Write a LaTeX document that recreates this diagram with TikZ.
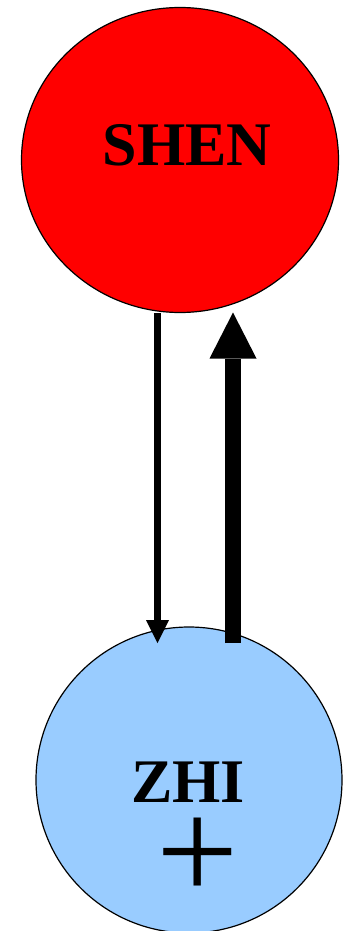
\documentclass[tikz,border=0pt]{standalone}
\usepackage{fontspec}
\setmainfont{Liberation Serif}
\usetikzlibrary{shapes.geometric,arrows.meta}
\definecolor{shenred}{RGB}{255,0,0}
\definecolor{zhiblue}{RGB}{153,204,255}

\begin{document}
\begin{tikzpicture}[x=1pt, y=-1pt,
    organ/.style={draw, line width=1.2pt, inner sep=0pt, outer sep=0pt},
    bigword/.style={font=\fontsize{62}{62}\selectfont\bfseries, anchor=base, inner sep=0pt},
    thinflow/.style={line width=7pt, -{Triangle[length=23pt, width=23pt, line width=0pt]}},
    thickflow/.style={line width=16pt, -{Triangle[length=46pt, width=47pt, line width=0pt]}}]
    \useasboundingbox (0,0) rectangle (344,931);

    % SHEN
    \node[organ, ellipse, fill=shenred, minimum width=317pt, minimum height=305pt] (shen) at (180,160) {};
    \node[bigword] (shenlabel) at (187,165) {SHEN};

    % ZHI
    \node[organ, circle, fill=zhiblue, minimum size=306pt] (zhi) at (189,780) {};
    \node[bigword] (zhilabel) at (188,802) {ZHI};
    \node[font=\fontsize{146}{146}\selectfont, anchor=base, inner sep=0pt, text height=80pt, text depth=0pt] (zhiplus) at (198,900) {+};

    % flows
    \draw[thinflow] ([xshift=-22.5pt]shen.south) -- ([xshift=-31.5pt, yshift=-16pt]zhi.north);
    \draw[thickflow] ([xshift=44pt, yshift=-16pt]zhi.north) -- ([xshift=53pt]shen.south);
\end{tikzpicture}
\end{document}
